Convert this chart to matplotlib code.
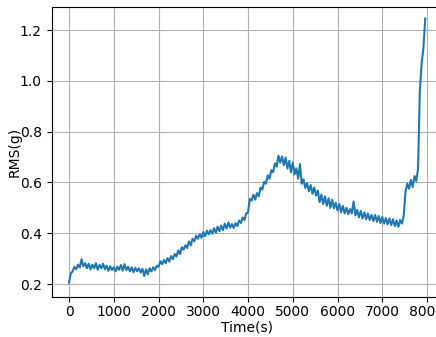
import matplotlib.pyplot as plt
import numpy as np

# 数据：时间 (s)，每 40 s 一个点
time = np.arange(0, 7961, 40)

# RMS 值 (g)
rms = [
    0.205, 0.242, 0.250, 0.268, 0.258, 0.276, 0.265, 0.298, 0.270, 0.282,
    0.262, 0.280, 0.258, 0.276, 0.262, 0.282, 0.256, 0.275, 0.262, 0.280,
    0.258, 0.272, 0.252, 0.270, 0.255, 0.266, 0.250, 0.268, 0.256, 0.275,
    0.252, 0.278, 0.255, 0.268, 0.250, 0.266, 0.246, 0.264, 0.250, 0.262,
    0.245, 0.260, 0.232, 0.258, 0.238, 0.262, 0.250, 0.266, 0.255, 0.272,
    0.268, 0.290, 0.278, 0.295, 0.282, 0.302, 0.288, 0.310, 0.298, 0.318,
    0.308, 0.332, 0.318, 0.345, 0.335, 0.352, 0.342, 0.368, 0.352, 0.378,
    0.368, 0.390, 0.378, 0.396, 0.382, 0.405, 0.388, 0.410, 0.395, 0.412,
    0.398, 0.420, 0.402, 0.426, 0.408, 0.430, 0.412, 0.438, 0.418, 0.442,
    0.422, 0.436, 0.420, 0.440, 0.428, 0.450, 0.440, 0.462, 0.452, 0.478,
    0.482, 0.535, 0.528, 0.552, 0.532, 0.558, 0.545, 0.580, 0.572, 0.602,
    0.595, 0.628, 0.615, 0.648, 0.640, 0.675, 0.662, 0.705, 0.678, 0.702,
    0.668, 0.698, 0.655, 0.685, 0.640, 0.678, 0.632, 0.655, 0.615, 0.672,
    0.595, 0.612, 0.578, 0.598, 0.565, 0.590, 0.555, 0.580, 0.548, 0.568,
    0.522, 0.552, 0.515, 0.545, 0.508, 0.538, 0.500, 0.532, 0.498, 0.520,
    0.490, 0.515, 0.482, 0.508, 0.478, 0.500, 0.475, 0.495, 0.478, 0.525,
    0.470, 0.492, 0.462, 0.488, 0.458, 0.482, 0.455, 0.478, 0.452, 0.472,
    0.448, 0.472, 0.445, 0.468, 0.440, 0.465, 0.438, 0.460, 0.435, 0.458,
    0.432, 0.455, 0.428, 0.450, 0.425, 0.452, 0.438, 0.470, 0.565, 0.595,
    0.575, 0.610, 0.582, 0.625, 0.605, 0.655, 0.960, 1.070, 1.130, 1.245,
]

# 图表设置（右侧被裁掉一部分，和原图一致）
fig = plt.figure(figsize=(4.36, 3.37), dpi=100)
ax = fig.add_axes([51.5 / 436, 40.3 / 337, 391 / 436, 290 / 337])

ax.plot(time, rms, color='tab:blue', linewidth=1.5)

ax.set_xlim(-392, 8346)
ax.set_ylim(0.15, 1.292)
ax.set_xticks([0, 1000, 2000, 3000, 4000, 5000, 6000, 7000, 8000])
ax.set_yticks([0.2, 0.4, 0.6, 0.8, 1.0, 1.2])
ax.tick_params(axis='x', pad=2.5)

ax.set_xlabel('Time(s)', labelpad=1)
ax.set_ylabel('RMS(g)', labelpad=-1.5)
ax.grid(True)

fig.savefig('out.png', dpi=100)
